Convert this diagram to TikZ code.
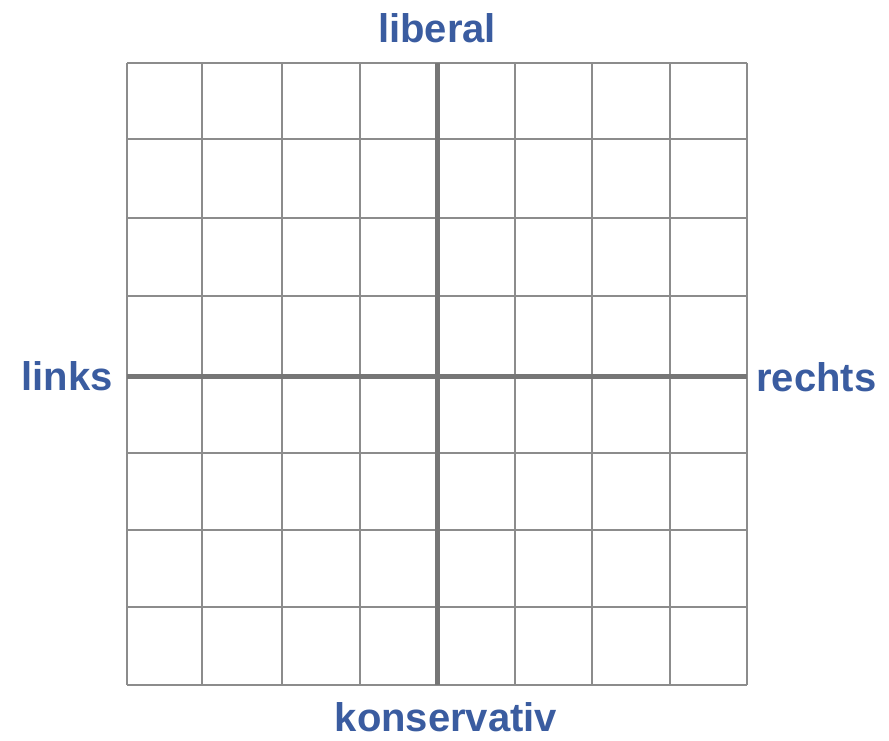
\documentclass[tikz,border=0pt]{standalone}
\usepackage{fontspec}
\setmainfont{Liberation Sans}
\definecolor{lblue}{HTML}{3A5CA0}
\definecolor{gridgray}{HTML}{8C8C8C}
\definecolor{axisgray}{HTML}{767676}
\tikzset{
  gridline/.style={draw=gridgray, line width=1.5pt},
  axisline/.style={draw=axisgray, line width=5pt},
  axislabel/.style={text=lblue, font=\fontsize{40}{40}\selectfont\bfseries, inner sep=0pt, anchor=base}
}
\begin{document}
\begin{tikzpicture}[x=1pt,y=-1pt]
\useasboundingbox (0,0) rectangle (889,741);
% grid
\foreach \x in {127,202,282,360,437,515,592,670,747}
  \draw[gridline] (\x,63) -- (\x,685);
\foreach \y in {63,139,218,296,376,453,530,607,685}
  \draw[gridline] (127,\y) -- (747,\y);
\coordinate (L) at (127,376);
\coordinate (R) at (747,376);
\coordinate (T) at (437,63);
\coordinate (B) at (437,685);
\draw[axisline] (L) -- (R);
\draw[axisline] (T) -- (B);
\node[axislabel] (lib) at (437,43) {liberal};
\node[axislabel, anchor=base east] (lin) at (113,390) {links};
\node[axislabel, anchor=base west] (rec) at (756,391) {rechts};
\node[axislabel] (kon) at (446,731) {konservativ};
\end{tikzpicture}
\end{document}
